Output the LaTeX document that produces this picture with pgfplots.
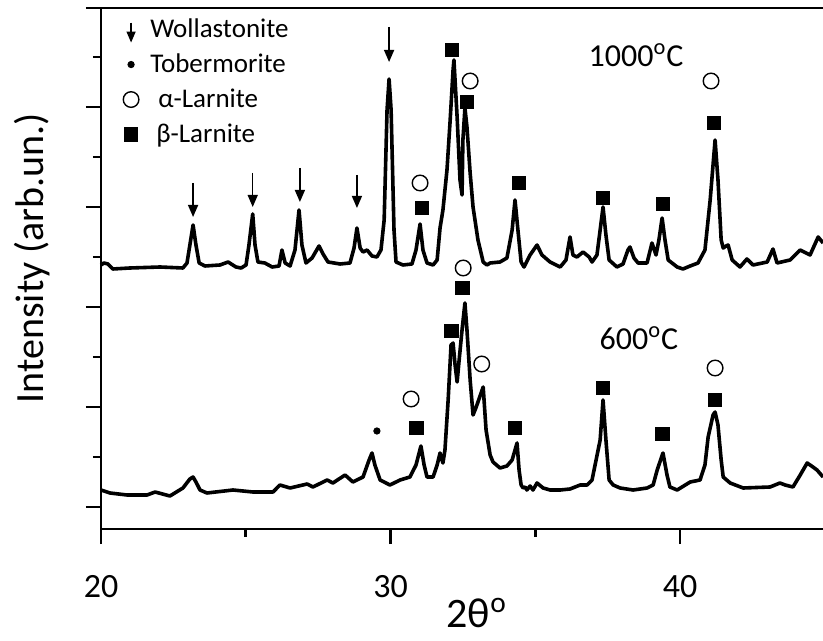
\documentclass[border=0pt]{standalone}
\usepackage{pgfplots}
\pgfplotsset{compat=1.18}
\usepackage{fontspec}
\setmainfont{Carlito}
\usetikzlibrary{arrows.meta}

% upper pattern (1000 C), y in plot units
\pgfplotstableread{
x y
20.00 264
20.10 266
20.24 265
20.41 260
21.00 261
22.04 262
22.83 261
22.97 266
23.07 284
23.18 304
23.28 284
23.39 266
23.59 263
24.11 264
24.39 267
24.66 262
24.84 261
25.01 264
25.11 284
25.24 315
25.32 284
25.42 267
25.66 266
25.91 262
26.15 263
26.25 279
26.36 266
26.53 263
26.70 279
26.84 319
26.94 284
27.08 266
27.29 271
27.53 283
27.67 275
27.84 267
28.26 265
28.60 266
28.74 281
28.84 301
28.95 281
29.05 277
29.19 279
29.36 273
29.53 272
29.67 279
29.78 309
29.88 419
29.95 450
30.02 419
30.12 299
30.19 267
30.43 264
30.74 265
30.88 279
31.02 305
31.12 279
31.26 266
31.47 264
31.61 269
31.71 301
31.81 319
31.95 359
32.06 409
32.16 459
32.19 469
32.30 412
32.40 349
32.47 334
32.50 389
32.57 421
32.64 402
32.75 356
32.85 322
33.02 289
33.20 267
33.33 264
33.44 266
33.78 267
34.02 271
34.20 299
34.30 329
34.40 299
34.51 267
34.61 262
34.82 274
35.06 284
35.23 274
35.51 267
35.86 262
36.06 269
36.20 292
36.30 274
36.44 272
36.65 277
36.86 272
36.96 267
37.13 274
37.24 299
37.34 322
37.44 294
37.55 269
37.82 262
38.03 265
38.20 279
38.27 282
38.41 271
38.55 266
38.86 266
39.03 286
39.17 274
39.27 289
39.38 311
39.48 289
39.59 269
39.90 262
40.10 260
40.35 263
40.62 266
40.86 279
41.04 329
41.21 389
41.31 349
41.42 289
41.49 281
41.59 283
41.66 284
41.80 269
42.07 262
42.31 270
42.52 264
43.01 267
43.21 280
43.35 266
43.80 269
44.15 279
44.49 274
44.77 292
44.94 286
}\tableup

% lower pattern (600 C)
\pgfplotstableread{
x y
20.00 39
20.31 36
20.90 34
21.59 34
21.87 37
22.38 33
22.83 41
23.07 50
23.18 52
23.28 47
23.42 39
23.66 36
24.56 39
25.25 37
25.94 37
26.18 44
26.53 41
27.12 45
27.32 42
27.81 49
28.01 46
28.43 54
28.70 47
29.05 52
29.26 69
29.36 76
29.46 64
29.64 49
29.98 44
30.33 49
30.67 52
30.88 64
31.05 83
31.16 64
31.26 52
31.47 52
31.61 64
31.71 76
31.81 66
31.88 79
31.99 129
32.09 184
32.16 186
32.23 164
32.30 147
32.37 169
32.47 199
32.57 226
32.64 199
32.75 149
32.85 114
32.96 122
33.20 142
33.30 99
33.44 74
33.54 67
33.78 61
34.02 63
34.20 69
34.37 86
34.44 59
34.51 44
34.58 41
34.65 42
34.71 39
34.82 43
34.92 39
35.06 46
35.27 41
35.51 39
35.86 39
36.20 40
36.55 44
36.79 44
36.96 49
37.24 89
37.34 129
37.44 89
37.55 49
37.69 44
37.93 41
38.38 39
38.86 41
39.07 44
39.21 59
39.41 76
39.55 54
39.65 42
39.90 39
40.35 47
40.69 49
40.86 64
40.97 92
41.14 114
41.21 117
41.31 104
41.42 69
41.49 52
41.73 46
42.18 41
43.11 42
43.45 46
43.63 44
43.90 42
44.15 54
44.39 66
44.59 62
44.73 59
44.94 52
}\tablelow

\begin{document}
\begin{tikzpicture}
\begin{axis}[
  scale only axis, width=364.8pt, height=260.5pt,
  xmin=20, xmax=45.2, ymin=0, ymax=521,
  clip=false,
  axis line style={line width=1.3pt},
  tick align=outside, tick pos=left,
  xtick={20,30,40}, minor xtick={25,35},
  ytick={22,122,222,322,422,521}, minor ytick={72,172,272,372,472},
  yticklabels={},
  major tick length=7.5pt, minor tick length=4pt,
  every tick/.style={black, line width=1.3pt},
  xticklabel style={font=\fontsize{17}{20}\selectfont, /pgf/number format/assume math mode=true, yshift=-12pt},
  xlabel={2θ\textsuperscript{o}},
  ylabel={Intensity (arb.un.)},
  every axis x label/.style={at={(axis description cs:0.515,-0.161)}, anchor=center, font=\fontsize{21}{25}\selectfont},
  every axis y label/.style={at={(axis description cs:-0.0946,0.52)}, anchor=center, rotate=90, font=\fontsize{20}{24}\selectfont},
  legend style={at={(axis description cs:0.030,0.993)}, anchor=north west, draw=none, fill=none,
    font=\fontsize{13.5}{16}\selectfont, row sep=0pt, column sep=4.2pt, inner sep=0pt,
    nodes={text height=11pt, text depth=3.5pt, inner sep=1.5pt}},
  legend cell align=left,
]
\addplot[black, line width=1.8pt, line join=round, forget plot] table[x=x,y=y] {\tableup};
\addplot[black, line width=1.8pt, line join=round, forget plot] table[x=x,y=y] {\tablelow};

% Wollastonite arrows
\addplot[black, line width=0.7pt, -{Triangle[length=6pt,width=5pt]},
  quiver={u=0, v=\thisrow{v}},
  legend image code/.code={\draw[black, line width=0.7pt, -{Triangle[length=5.5pt,width=4.5pt]}] (0.3cm,3.5pt) -- (0.3cm,-6.5pt);}]
  table[x=x,y=y] {
x y v
23.18 346 -34
25.24 356 -34
26.87 361 -34
28.84 354 -33
29.95 502 -35
};
\addlegendentry{Wollastonite}
% Tobermorite
\addplot[only marks, mark=*, mark size=1.6pt, black] coordinates {(29.53,98)};
\addlegendentry{Tobermorite}
% alpha-Larnite
\addplot[only marks, mark=o, mark size=3.9pt, black, mark options={line width=0.7pt}] coordinates {
(31.02,346) (32.75,448) (41.07,448)
(30.71,130) (32.51,261) (33.15,165) (41.21,161)};
\addlegendentry{\hspace{4pt}α-Larnite}
% beta-Larnite
\addplot[only marks, mark=square*, mark size=3.4pt, black] coordinates {
(31.09,321) (32.12,479) (32.64,427) (34.44,346) (37.34,331) (39.41,325) (41.17,406)
(30.90,101) (32.11,198) (32.49,241) (34.30,101) (37.33,141) (39.40,95) (41.21,129)};
\addlegendentry{\hspace{3pt}β-Larnite}

\node[font=\fontsize{16}{19}\selectfont] at (axis cs:38.48,474) {1000\textsuperscript{o}C};
\node[font=\fontsize{16}{19}\selectfont] at (axis cs:38.58,191) {600\textsuperscript{o}C};
\end{axis}
\pgfresetboundingbox
\path ([shift={(-50.5pt,-56pt)}]current axis.south west) rectangle ([shift={(-3.8pt,4pt)}]current axis.north east);
\end{tikzpicture}
\end{document}
